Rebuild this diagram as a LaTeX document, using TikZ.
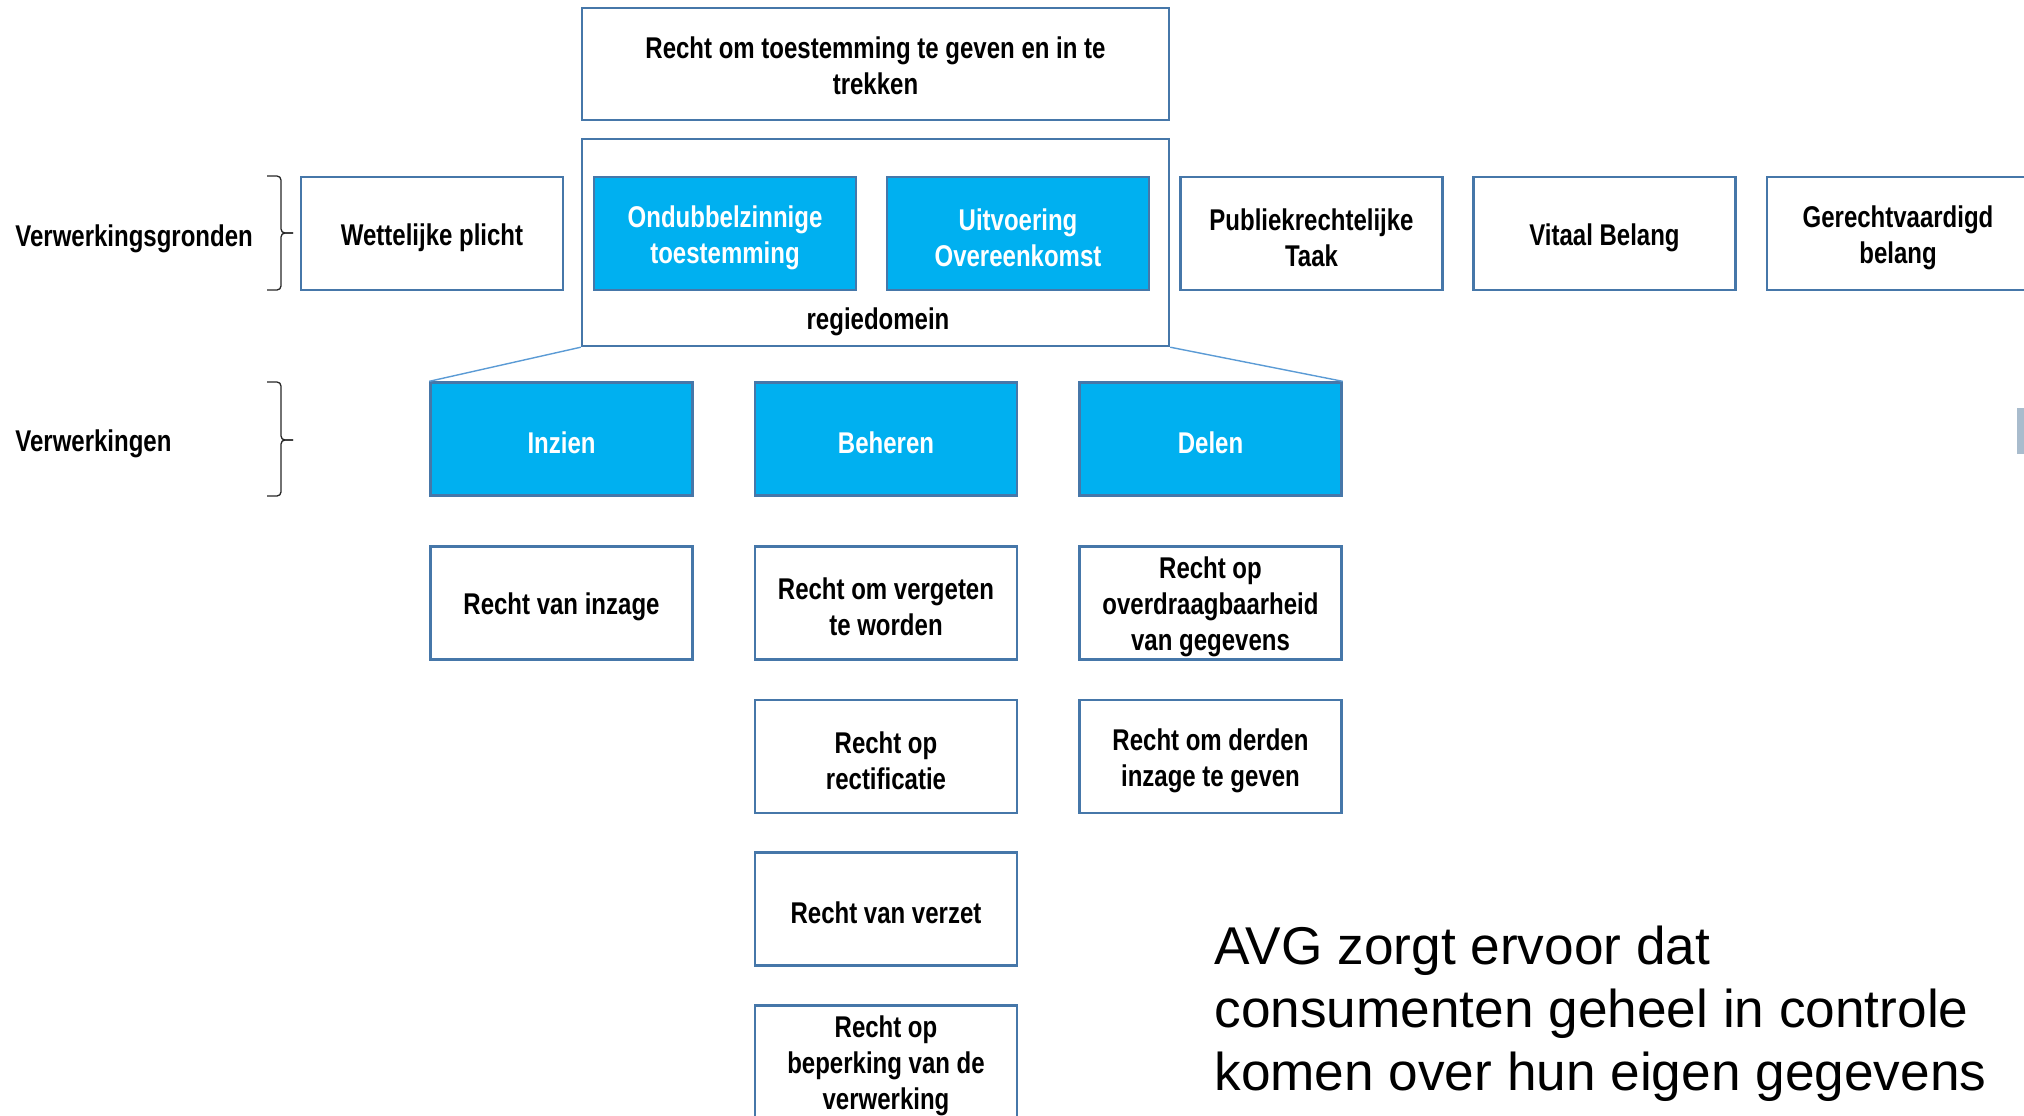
\documentclass[tikz,border=0pt]{standalone}
\usepackage{fontspec}
\setmainfont{Liberation Sans}
\newfontfamily\nb[FakeStretch=0.8]{Liberation Sans}
\definecolor{bordc}{HTML}{4677A9}
\definecolor{fillc}{HTML}{00B0F0}
\definecolor{linec}{HTML}{5B9BD5}
\definecolor{barc}{HTML}{A9BCCD}
\definecolor{bracec}{HTML}{262626}
\begin{document}
\begin{tikzpicture}[x=0.5pt,y=-0.5pt,
  boxtxt/.style={font=\nb\bfseries\fontsize{15}{18}\selectfont},
  boxshape/.style={draw=bordc, line width=1.2pt, fill=white, minimum width=131pt, minimum height=56.5pt, inner sep=0pt},
  box/.style={boxshape, label={[boxtxt, align=center, inner sep=0pt, yshift=-2pt]center:#1}},
  bluebox/.style={boxshape, fill=fillc, label={[boxtxt, text=white, align=center, inner sep=0pt, yshift=-2pt]center:#1}},
  bigbox/.style={draw=bordc, line width=1.2pt, fill=white, minimum width=293.5pt, inner sep=0pt, align=center},
  lbl/.style={boxtxt, anchor=west, inner sep=0pt},
  bracestyle/.style={draw=bracec, line width=0.65pt, rounded corners=2pt},
  conn/.style={draw=linec, line width=0.7pt}]
\useasboundingbox (0,0) rectangle (2024,1115);
\clip (0,0) rectangle (2024,1115);
% top
\node[bigbox, minimum height=56pt, label={[boxtxt, align=center, inner sep=0pt, yshift=-1pt]center:{Recht om toestemming te geven en in te\\trekken}}] (top) at (875.5,64) {};
\node[bigbox, minimum height=103.5pt] (regie) at (875.5,242.5) {};
\node[boxtxt, inner sep=0pt] (regielbl) at (878,322) {regiedomein};
% row 1
\node[box={Wettelijke plicht}] (wet) at (432,233.5) {};
\node[bluebox={Ondubbelzinnige\\toestemming}] (ond) at (725,233.5) {};
\node[bluebox={Uitvoering\\Overeenkomst}] (uit) at (1018,233.5) {};
\node[box={Publiekrechtelijke\\Taak}] (pub) at (1311.5,233.5) {};
\node[box={Vitaal Belang}] (vit) at (1604.5,233.5) {};
\node[box={Gerechtvaardigd\\belang}] (ger) at (1898,233.5) {};
% row 2
\node[bluebox={Inzien}] (inz) at (561.5,439) {};
\node[bluebox={Beheren}] (beh) at (886,439) {};
\node[bluebox={Delen}] (del) at (1210.5,439) {};
% rights
\node[box={Recht van inzage}] (r1) at (561.5,603) {};
\node[box={Recht om vergeten\\te worden}] (r2) at (886,603) {};
\node[box={Recht op\\overdraagbaarheid\\van gegevens}] (r3) at (1210.5,603) {};
\node[box={Recht op\\rectificatie}] (r4) at (886,756.5) {};
\node[box={Recht om derden\\inzage te geven}] (r5) at (1210.5,756.5) {};
\node[box={Recht van verzet}] (r6) at (886,909) {};
\node[box={Recht op\\beperking van de\\verwerking}] (r7) at (886,1062) {};
% connectors
\draw[conn] (regie.south west) -- (inz.north west);
\draw[conn] (regie.south east) -- (del.north east);
% labels and braces
\node[lbl] (lg) at (15,239) {Verwerkingsgronden};
\node[lbl] (lv) at (15,444) {Verwerkingen};
\draw[bracestyle] (267,176) -- (281,176) -- (281,233) -- (293,233);
\draw[bracestyle] (293,233) -- (281,233) -- (281,290) -- (267,290);
\draw[bracestyle] (267,382) -- (281,382) -- (281,440) -- (293,440);
\draw[bracestyle] (293,440) -- (281,440) -- (281,496) -- (267,496);
% side bar
\fill[barc] (2017,408) rectangle (2024,454);
% big text
\node[anchor=north west, align=left, inner sep=0pt, font=\fontsize{26.6}{31.5}\selectfont] (avg) at (1214,926)
  {AVG zorgt ervoor dat\\consumenten geheel in controle\\komen over hun eigen gegevens};
\end{tikzpicture}
\end{document}
